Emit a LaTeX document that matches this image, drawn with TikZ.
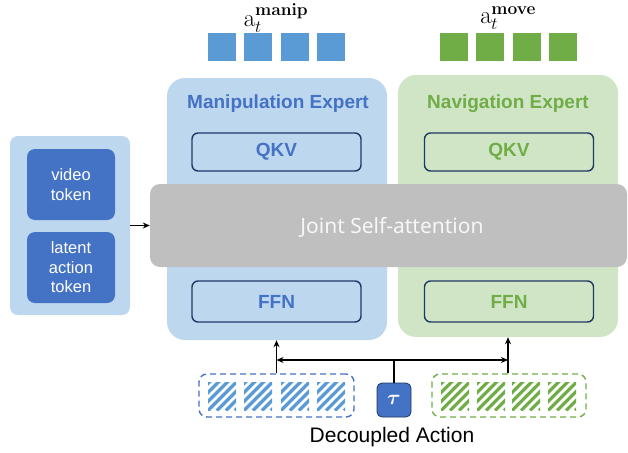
\documentclass[tikz,border=0pt]{standalone}
\usepackage[no-math]{fontspec}
\usepackage{amsmath}
\setmainfont{Liberation Sans}
\newfontfamily\jointfont{Noto Sans}
\usetikzlibrary{arrows.meta}
\definecolor{lblue}{HTML}{BDD7EE}
\definecolor{dblue}{HTML}{4472C4}
\definecolor{sblue}{HTML}{5B9BD5}
\definecolor{sgreen}{HTML}{70AD47}
\definecolor{lgreen}{HTML}{D0E5C5}
\definecolor{navy}{HTML}{1F3864}
\definecolor{jgray}{HTML}{BFBFBF}
\definecolor{jtext}{HTML}{F7F7F7}
\begin{document}
\begin{tikzpicture}[x=1pt,y=-1pt,
  every node/.style={inner sep=0pt},
  panel/.style={rectangle, rounded corners=8pt, fill=lblue},
  tokbox/.style={rectangle, rounded corners=8pt, fill=dblue, minimum width=88pt, minimum height=71pt, align=center, text=white, font=\fontsize{16.5}{19.5}\selectfont},
  expert/.style={rectangle, rounded corners=18pt, minimum width=220pt, minimum height=262pt},
  title/.style={font=\bfseries\fontsize{19}{21}\selectfont},
  layer/.style={rectangle, rounded corners=6pt, draw=navy, line width=1.4pt, minimum width=169pt, font=\bfseries\fontsize{19}{21}\selectfont},
  sq/.style={rectangle, minimum width=28pt, minimum height=28pt},
  hatchbox/.style={rectangle, minimum width=28pt, minimum height=28pt},
  dashbox/.style={rectangle, rounded corners=8pt, dash pattern=on 6pt off 4pt, line width=1.4pt, minimum width=155pt, minimum height=43pt},
  arr/.style={line width=1.4pt, -{Stealth[length=7pt,width=6pt]}},
  conn/.style={line width=1.4pt},
  lbl/.style={font=\fontsize{24}{26}\selectfont},
  taubox/.style={rectangle, rounded corners=5pt, fill=dblue, draw=navy, line width=0.8pt, minimum width=34pt, minimum height=34pt, text=white, font=\fontsize{22}{24}\selectfont}
]
\useasboundingbox (0,0) rectangle (628,452);

% left input panel
\node[panel, minimum width=120pt, minimum height=179pt] (left) at (70,225.5) {};
\node[tokbox] (video) at (71,184.5) {video\\token};
\node[tokbox] (latent) at (71,267.5) {latent\\action\\token};

% experts
\node[expert, fill=lblue] (manip) at (277,209) {};
\node[expert, fill=lgreen] (nav) at (508,206) {};
\node[title, text=dblue] (mtitle) at (278,104) {Manipulation Expert};
\node[title, text=sgreen] (ntitle) at (508,104) {Navigation Expert};
\node[layer, minimum height=38pt, text=dblue] (mqkv) at (276.5,152) {QKV};
\node[layer, minimum height=38pt, text=sgreen] (nqkv) at (509,152) {QKV};
\node[layer, minimum height=41pt, text=dblue] (mffn) at (276.5,301.5) {FFN};
\node[layer, minimum height=41pt, text=sgreen] (nffn) at (509,301.5) {FFN};

% joint self-attention
\node[rectangle, rounded corners=10pt, fill=jgray, minimum width=477pt, minimum height=83pt] (joint) at (388.5,225.5) {};
\node[text=jtext, font=\jointfont\fontsize{21}{23}\selectfont] (jtxt) at (392,227) {Joint Self-attention};

% input arrow
\draw[arr] (left.east) -- (left.east -| joint.west);

% output action tokens
\foreach \cx/\nm in {222/om1,258/om2,295/om3,331/om4} {
  \node[sq, fill=sblue] (\nm) at (\cx,47) {};
}
\foreach \cx/\nm in {454/on1,490/on2,527/on3,563/on4} {
  \node[sq, fill=sgreen] (\nm) at (\cx,47) {};
}
\node[lbl] (am) at (276,18) {$\mathrm{a}_{t}^{\mathbf{manip}}$};
\node[lbl] (an) at (508,18) {$\mathrm{a}_{t}^{\mathbf{move}}$};

% decoupled action inputs
\node[dashbox, draw=dblue] (bm) at (276.5,395.5) {};
\node[dashbox, draw=sgreen, minimum width=154pt] (bn) at (509,395.5) {};
\foreach \cx/\nm/\col in {222/hm1/sblue,258/hm2/sblue,295/hm3/sblue,331/hm4/sblue,455/hn1/sgreen,491/hn2/sgreen,526/hn3/sgreen,562/hn4/sgreen} {
  \node[hatchbox] (\nm) at (\cx,396.5) {};
  \begin{scope}
    \clip (\cx-14,382.5) rectangle (\cx+14,410.5);
    \foreach \k in {-36,-27,...,36} {
      \draw[\col, line width=3.2pt] (\cx-14+\k,410.5) -- (\cx+22+\k,374.5);
    }
  \end{scope}
}
\node[taubox] (tau) at (394,400) {$\boldsymbol{\tau}$};

% connectors
\coordinate (hj) at (394,360);
\draw[conn] (tau.north) -- (hj);
\draw[arr] (hj) -- (hj -| bm.north);
\draw[arr] (hj) -- (hj -| nav.south);
\draw[arr] (bm.north) -- (bm.north |- manip.south);
\draw[arr] (bm.north -| nav.south) -- (nav.south);

\node[font=\fontsize{21}{23}\selectfont] (dec) at (392,437) {Decoupled Action};
\end{tikzpicture}
\end{document}
